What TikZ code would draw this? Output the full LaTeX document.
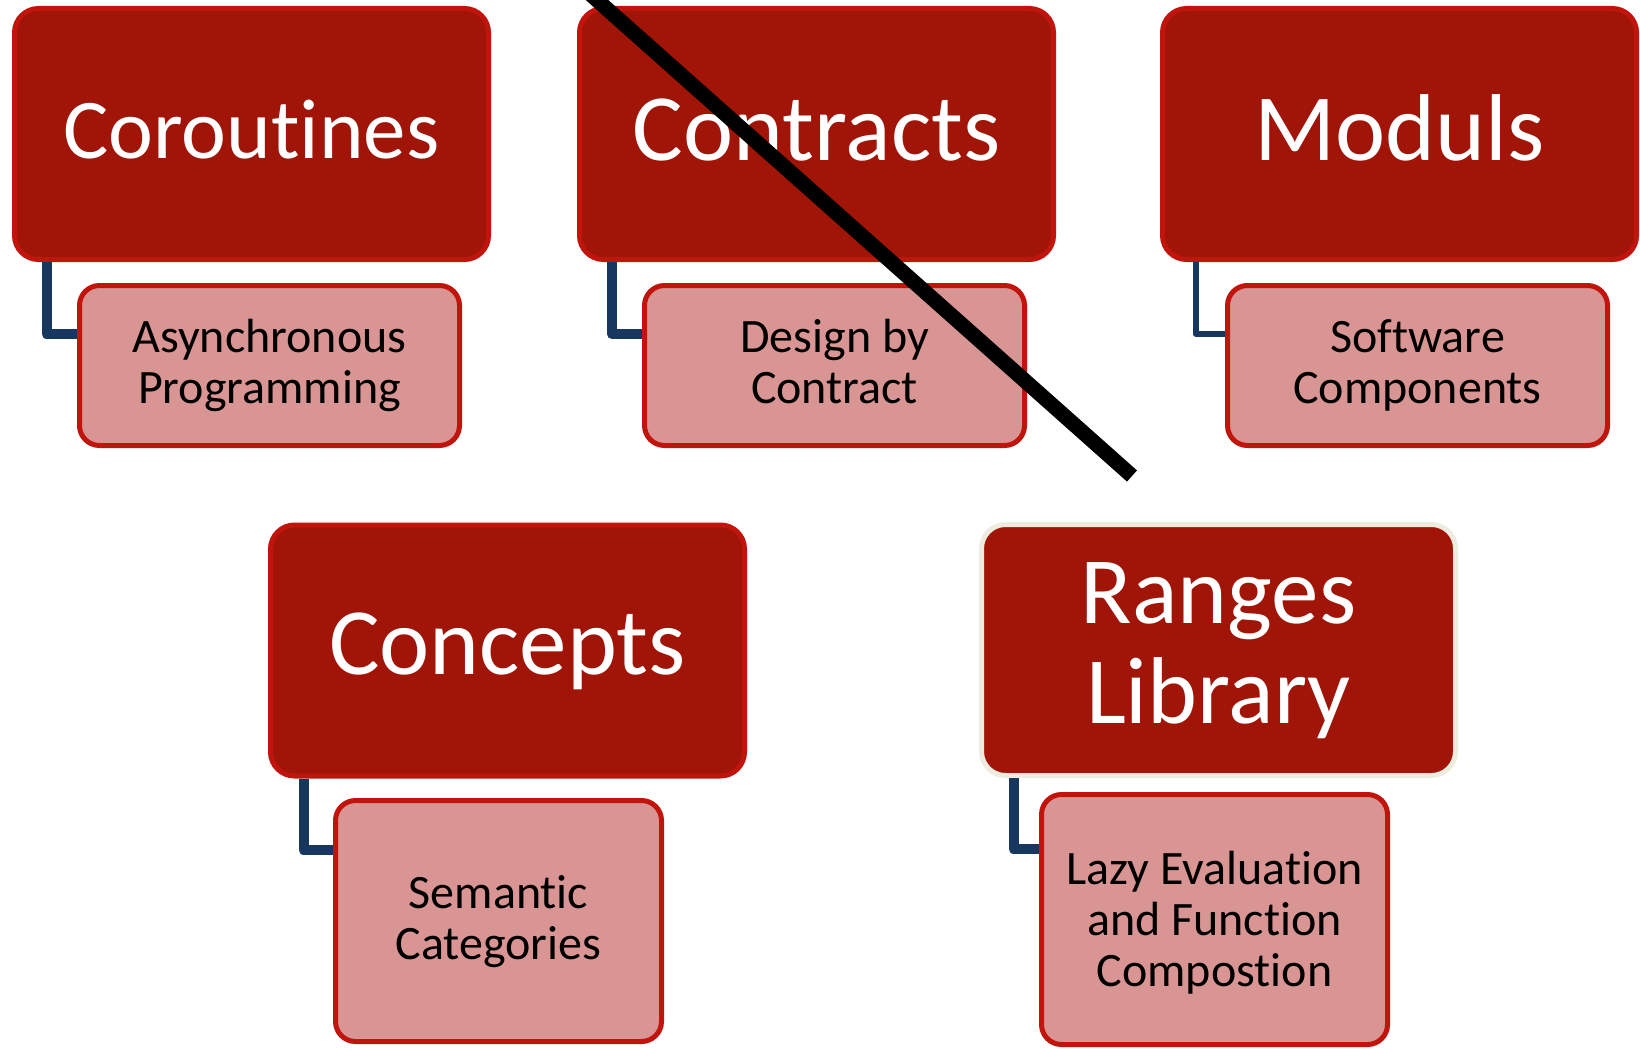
\documentclass[tikz,border=0pt]{standalone}
\usepackage{fontspec}
\setmainfont{Carlito}[Ligatures=NoCommon]
\usetikzlibrary{calc}
\definecolor{topfill}{RGB}{161,20,8}
\definecolor{boxline}{RGB}{192,20,12}
\definecolor{subfill}{RGB}{217,149,148}
\definecolor{linkblue}{RGB}{23,55,94}
\definecolor{paleedge}{RGB}{238,236,225}
\tikzset{
  topbox/.style={draw=boxline, fill=topfill, line width=5pt, rounded corners=24pt,
    minimum width=474pt, minimum height=251pt, inner sep=0pt},
  subbox/.style={draw=boxline, fill=subfill, line width=5pt, rounded corners=20pt, inner sep=0pt},
  toptext/.style={text=white, anchor=base, align=center, inner sep=0pt},
  subtext/.style={text=black, anchor=base, align=center, inner sep=0pt,
    font=\fontsize{48}{51}\selectfont},
  link/.style={draw=linkblue, line width=10pt, line join=round},
  strike/.style={draw=black, line width=15pt}
}
\begin{document}
\begin{tikzpicture}[x=1pt, y=-1pt]
\useasboundingbox (0,0) rectangle (1640,1049);
\clip (0,0) rectangle (1640,1049);
\fill[white] (0,0) rectangle (1640,1049);

% main topics
\node[topbox] (coro) at (251.5,134) {};
\node[topbox] (contr) at (816.5,134) {};
\node[topbox] (mods) at (1399.5,134) {};
\node[topbox] (conc) at (507.5,650.5) {};
\node[topbox, draw=paleedge] (rang) at (1218.5,650) {};

% sub topics
\node[subbox, minimum width=380pt, minimum height=160pt] (async) at (269.5,365.5) {};
\node[subbox, minimum width=380pt, minimum height=160pt] (dbc) at (834.5,365.5) {};
\node[subbox, minimum width=380pt, minimum height=160pt] (soft) at (1417.5,365.5) {};
\node[subbox, minimum width=326pt, minimum height=241pt] (sem) at (498.5,921) {};
\node[subbox, minimum width=346pt, minimum height=250pt] (lazy) at (1214.5,919.5) {};

% elbow links from each topic to its sub topic
\coordinate (k1) at ($(coro.south west)+(34.5pt,-72pt)$);
\coordinate (k2) at ($(contr.south west)+(35pt,-72pt)$);
\coordinate (k3) at ($(mods.south west)+(35.5pt,-71.5pt)$);
\coordinate (k4) at ($(conc.south west)+(35.5pt,-71.5pt)$);
\coordinate (k5) at ($(rang.south west)+(34.5pt,-71pt)$);
\draw[link] (k1 |- coro.south) -- (k1) -- (k1 -| async.west);
\draw[link] (k2 |- contr.south) -- (k2) -- (k2 -| dbc.west);
\draw[link, line width=6pt] (k3 |- mods.south) -- (k3) -- (k3 -| soft.west);
\draw[link] (k4 |- conc.south) -- (k4) -- (k4 -| sem.west);
\draw[link] (k5 |- rang.south) -- (k5) -- (k5 -| lazy.west);

% topic labels (base anchor = baseline of the last line)
\node[toptext, font=\fontsize{85}{100}\selectfont] (tcoro) at (251.5,158) {Coroutines};
\node[toptext, font=\fontsize{95}{100}\selectfont] (tcontr) at (816.5,160) {Contracts};
\node[toptext, font=\fontsize{95}{100}\selectfont] (tmods) at (1399.5,160) {Moduls};
\node[toptext, font=\fontsize{95}{100}\selectfont] (tconc) at (507.5,674) {Concepts};
\node[toptext, font=\fontsize{95}{100}\selectfont] (trang) at (1218.5,723) {Ranges\\Library};

% sub topic labels
\node[subtext] (tasync) at (269.5,403) {Asynchronous\\Programming};
\node[subtext] (tdbc) at (834.5,403) {Design by\\Contract};
\node[subtext] (tsoft) at (1417.5,403) {Software\\Components};
\node[subtext] (tsem) at (498.5,959) {Semantic\\Categories};
\node[subtext] (tlazy) at (1214.5,986) {Lazy Evaluation\\and Function\\Compostion};

% crossing-out stroke
\coordinate (s1) at (574.5,-20);
\coordinate (s2) at (1132,476);
\draw[strike] (s1) -- (s2);
\end{tikzpicture}
\end{document}
